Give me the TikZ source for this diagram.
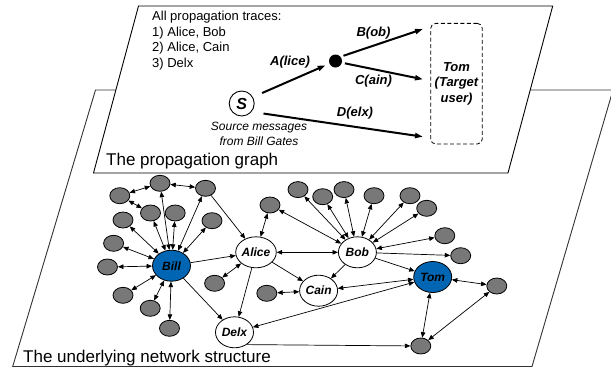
\documentclass[tikz,border=0pt]{standalone}
\usepackage{fontspec}
\setmainfont{Liberation Sans}
\usetikzlibrary{arrows.meta,shapes.geometric,calc}
\definecolor{nodeblue}{RGB}{0,102,179}
\definecolor{nodegray}{RGB}{120,120,120}
\begin{document}
\begin{tikzpicture}[x=1pt,y=-1pt,
  plane/.style={draw=black,line width=0.9pt,fill=white,line join=miter},
  named/.style={ellipse,draw,line width=0.8pt,fill=white,minimum width=38pt,minimum height=31pt,inner sep=0pt,font=\fontsize{12}{13}\selectfont\bfseries\itshape},
  hub/.style={named,fill=nodeblue},
  leaf/.style={ellipse,draw,line width=0.8pt,fill=nodegray,minimum width=20pt,minimum height=16pt,inner sep=0pt},
  link/.style={line width=0.7pt,-{Triangle[length=5.5pt,width=4.5pt]}},
  blink/.style={line width=0.7pt,{Triangle[length=5.5pt,width=4.5pt]}-{Triangle[length=5.5pt,width=4.5pt]}},
  prop/.style={line width=2pt,-{Triangle[length=8pt,width=5pt]}},
  lbl/.style={font=\fontsize{13}{14}\selectfont\bfseries\itshape,inner sep=0pt},
  plain/.style={font=\fontsize{13}{15.7}\selectfont,inner sep=0pt,anchor=base west},
  title/.style={font=\fontsize{17}{20}\selectfont,inner sep=0pt,anchor=base west},
]
\useasboundingbox (0,0) rectangle (611,368);
\fill[white] (0,0) rectangle (611,368);

% lower plane
\draw[plane,draw=black!80] (95.5,90) -- (613,90) -- (532,366.5) -- (12.7,366.5) -- cycle;
% upper plane
\draw[plane] (138.5,6) -- (552.7,6) -- (508,173) -- (93.5,173) -- cycle;

% ---------- propagation graph ----------
\node[plain] (t0) at (152,20.3) {All propagation traces:};
\node[plain] (t1) at (152,36) {1) Alice, Bob};
\node[plain] (t2) at (152,51.7) {2) Alice, Cain};
\node[plain] (t3) at (152,67.4) {3) Delx};

\node[circle,draw,line width=0.9pt,minimum size=25pt,inner sep=0pt,font=\fontsize{16}{16}\selectfont\bfseries\itshape] (S) at (241.7,103.5) {S};
\node[circle,fill=black,minimum size=13pt,inner sep=0pt] (dot) at (335.5,61) {};
\node[draw,dashed,dash pattern=on 4pt off 2.5pt,line width=0.8pt,rounded corners=5pt,minimum width=51.6pt,minimum height=120.7pt,inner sep=0pt,align=center,font=\fontsize{13}{15.4}\selectfont\bfseries\itshape] (tom) at (456.5,83.7) {Tom\\(Target\\user)};
\node[align=center,inner sep=0pt,font=\fontsize{12}{15}\selectfont\itshape] (src) at (259,134) {Source messages\\from Bill Gates};

\coordinate (tB) at (423,29);
\coordinate (tC) at (423,79.3);
\coordinate (tD) at (423,136.7);

\draw[prop,shorten <=10pt,shorten >=4pt] (S.30) -- (dot);
\draw[prop,shorten <=3pt] (dot.40) -- (tB);
\draw[prop,shorten <=3pt] (dot.-15) -- (tC);
\draw[prop,shorten <=12pt] (S.-40) -- (tD);

\node[lbl] (la) at (290,61.7) {A(lice)};
\node[lbl] (lb) at (373.5,33) {B(ob)};
\node[lbl] (lc) at (373.5,81) {C(ain)};
\node[lbl] (ld) at (355,113.3) {D(elx)};

\node[title] (ptitle) at (106,165) {The propagation graph};

% ---------- underlying network ----------
\node[hub] (bill) at (171.5,265.7) {Bill};
\node[named] (alice) at (256,252.3) {Alice};
\node[named] (bob) at (357.4,252.3) {Bob};
\node[named] (cain) at (318.6,290.7) {Cain};
\node[hub] (tomn) at (432.7,277) {Tom};
\node[named] (delx) at (234.5,332.3) {Delx};

\node[leaf] (g1) at (160,183.3) {};
\node[leaf] (g2) at (205.5,188.3) {};
\node[leaf] (g3) at (119.8,195.7) {};
\node[leaf] (g4) at (150.5,213) {};
\node[leaf] (g5) at (175.2,213) {};
\node[leaf] (g6) at (123,220) {};
\node[leaf] (g7) at (212,220.7) {};
\node[leaf] (g8) at (113.6,243.3) {};
\node[leaf] (g9) at (107.5,267) {};
\node[leaf] (g10) at (123,295.3) {};
\node[leaf] (g11) at (150.2,308.3) {};
\node[leaf] (g12) at (169.5,328.3) {};
\node[leaf] (g13) at (214.6,283.3) {};
\node[leaf] (g14) at (270,205) {};
\node[leaf] (g15) at (266.8,293.3) {};
\node[leaf] (g16) at (298,189.6) {};
\node[leaf] (g17) at (322.7,196.7) {};
\node[leaf] (g18) at (344,189.6) {};
\node[leaf] (g19) at (374,195.7) {};
\node[leaf] (g20) at (410,195.7) {};
\node[leaf] (g21) at (426.7,208.3) {};
\node[leaf] (g22) at (444.8,235.7) {};
\node[leaf] (g23) at (460.7,255.7) {};
\node[leaf] (g24) at (496.8,286) {};
\node[leaf] (g25) at (420.8,346) {};

% Bill cluster
\draw[blink] (g3) -- (g1);
\draw[blink] (g1) -- (g2);
\draw[blink] (g3) -- (g4);
\foreach \g in {g1,g2,g4,g5,g6,g7,g8,g9,g10,g11,g12}
  \draw[blink] (\g) -- (bill);
\draw[link] (g2) -- (alice);
\draw[link] (bill) -- (alice);
\draw[link] (bill) -- (delx);
\draw[link] (alice) -- (delx);
\draw[blink] (g13) -- (alice);
\draw[blink] (g14) -- (alice);
\draw[blink] (alice) -- (bob);
\draw[link] (alice) -- (cain);
\draw[link] (bob) -- (cain);
\draw[blink] (g15) -- (cain);
\draw[blink] (cain) -- (tomn);
\draw[blink] (delx) -- (tomn);
\draw[link] (delx.-45) -- (g25);
\draw[link] (bob) -- (tomn);
\foreach \g in {g14,g16,g17,g18,g19,g20,g21,g22}
  \draw[blink] (\g) -- (bob);
\draw[link] (bob) -- (g23);
\draw[blink] (tomn) -- (g24);
\draw[blink] (tomn) -- (g25);
\draw[blink] (g24) -- (g25);

\node[title] (ntitle) at (23,362.7) {The underlying network structure};
\end{tikzpicture}
\end{document}
